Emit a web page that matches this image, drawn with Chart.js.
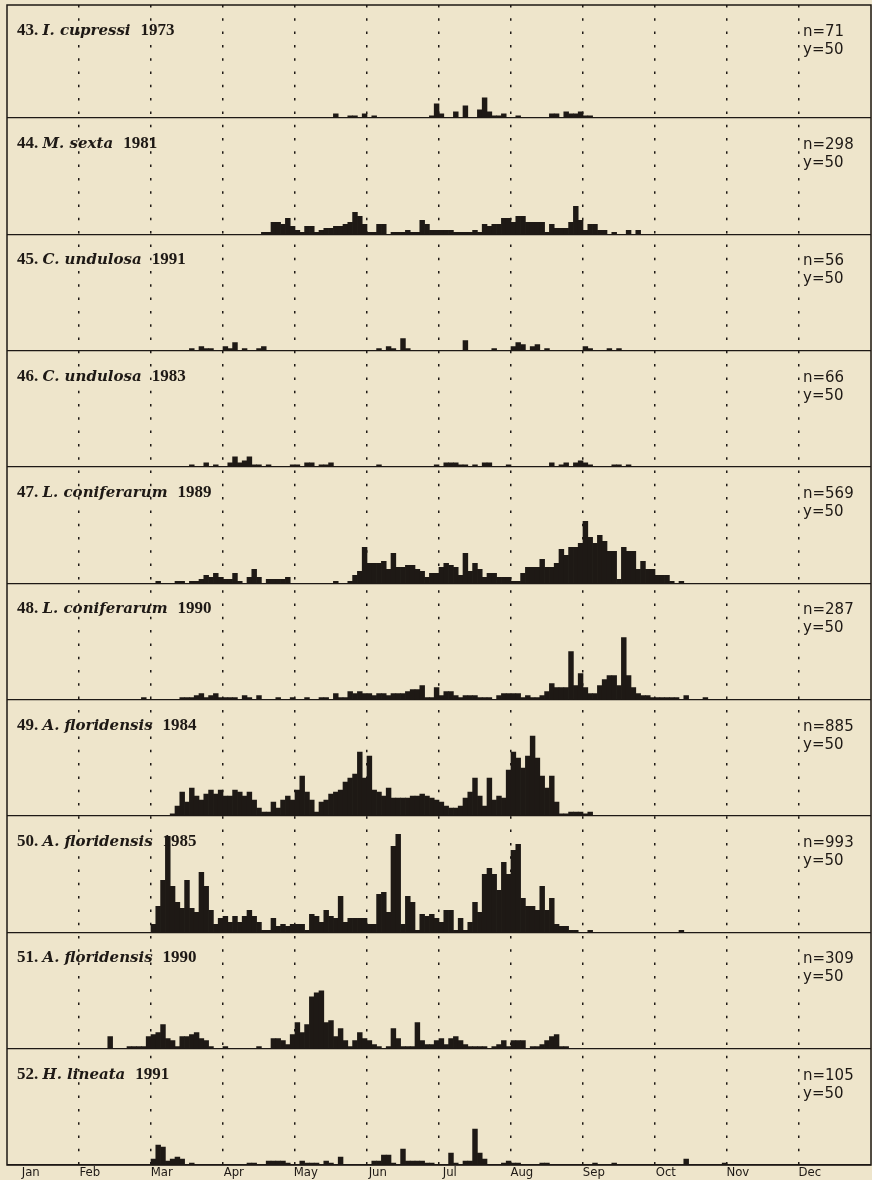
<!DOCTYPE html>
<html>
<head>
<meta charset="utf-8">
<script src="https://cdn.jsdelivr.net/npm/chart.js@4.4.1/dist/chart.umd.min.js"></script>
<style>
  html, body { margin: 0; padding: 0; background: #eee5cb; }
  canvas { display: block; }
</style>
</head>
<body>
<canvas id="chart" width="872" height="1180"></canvas>
<script>
const months = ['Jan', 'Feb', 'Mar', 'Apr', 'May', 'Jun', 'Jul', 'Aug', 'Sep', 'Oct', 'Nov', 'Dec'];
const binsPerMonth = 15; // about two days per bar

const panelNums = ['43.', '44.', '45.', '46.', '47.', '48.', '49.', '50.', '51.', '52.'];
const species = ['I. cupressi', 'M. sexta', 'C. undulosa', 'C. undulosa', 'L. coniferarum',
  'L. coniferarum', 'A. floridensis', 'A. floridensis', 'A. floridensis', 'H. lineata'];
const years = ['1973', '1981', '1991', '1983', '1989', '1990', '1984', '1985', '1990', '1991'];
const totals = [71, 298, 56, 66, 569, 287, 885, 993, 309, 105];
const scaleNote = 'y=50';

// bin index of the first value in each series
const firstBin = [68, 53, 38, 38, 31, 28, 34, 30, 21, 30];

const counts43 = [2,0,0,1,1,0,2,0,1,0, 0,0,0,0,0,0,0,0,0,0, 1,7,2,0,0,3,0,6,0,0,
  4,10,3,1,1,2,0,0,1,0, 0,0,0,0,0,2,2,0,3,2, 2,3,1,1];
const counts44 = [1,1,6,6,5,8,4,2,1,4, 4,1,2,3,3,4,4,5,6,11, 9,5,1,1,5,5,0,1,1,1,
  2,1,1,7,5,2,2,2,2,2, 1,1,1,1,2,1,5,4,5,5, 8,8,6,9,9,6,6,6,6,1,
  5,3,3,3,6,14,7,2,5,5, 2,2,0,1,0,0,2,0,2];
const counts45 = [1,0,2,1,1,0,0,2,1,4, 0,1,0,0,1,2,0,0,0,0, 0,0,0,0,0,0,0,0,0,0,
  0,0,0,0,0,0,0,0,0,1, 0,2,1,0,6,1,0,0,0,0, 0,0,0,0,0,0,0,5,0,0,
  0,0,0,1,0,0,0,2,4,3, 0,2,3,0,1,0,0,0,0,0, 0,0,2,1,0,0,0,1,0,1];
const counts46 = [1,0,0,2,0,1,0,0,2,5, 2,3,5,1,1,0,1,0,0,0, 0,1,1,0,2,2,0,1,1,2,
  0,0,0,0,0,0,0,0,0,1, 0,0,0,0,0,0,0,0,0,0, 0,1,0,2,2,2,1,1,0,1,
  0,2,2,0,0,0,1,0,0,0, 0,0,0,0,0,2,0,1,2,0, 2,3,2,1,0,0,0,0,1,1,0,1];
const counts47 = [1,0,0,0,1,1,0,1,1,2, 4,3,5,3,2,2,5,1,0,3, 7,3,0,2,2,2,2,3,0,0,
  0,0,0,0,0,0,0,1,0,0, 1,4,6,18,10,10,10,11,7,15, 8,8,9,9,7,6,3,5,5,8,
  10,9,8,4,15,6,10,7,3,5, 5,3,3,3,1,1,5,8,8,8, 12,8,8,10,17,14,18,18,20,31,
  23,20,24,21,16,16,2,18,16,16, 7,11,7,7,4,4,4,1,0,1];
const counts48 = [1,0,0,0,0,0,0,0,1,1, 1,2,3,1,2,3,1,1,1,1, 0,2,1,0,2,0,0,0,1,0,
  0,1,0,0,1,0,0,1,1,0, 3,1,1,4,3,4,3,3,2,3, 3,2,3,3,3,4,5,5,7,1,
  1,6,2,4,4,2,1,2,2,2, 1,1,1,0,2,3,3,3,3,1, 2,1,1,2,4,8,6,6,6,24,
  7,13,6,3,3,7,10,12,12,7, 31,12,6,3,2,2,1,1,1,1, 1,1,0,2,0,0,0,1];
const counts49 = [1,5,12,7,14,10,8,11,13,11, 13,10,10,13,12,10,12,8,4,2, 2,7,4,8,10,8,13,20,12,8,
  2,7,8,11,12,13,17,19,21,32, 19,30,13,12,10,14,9,9,9,9, 10,10,11,10,9,8,7,5,4,4,
  5,9,12,19,10,5,19,8,10,9, 23,32,29,24,30,40,29,20,14,20, 7,1,1,2,2,2,1,2];
const counts50 = [4,13,26,48,23,15,12,26,12,10, 30,23,11,4,7,8,5,8,5,8, 11,8,5,1,1,7,3,4,3,4,
  4,4,1,9,8,5,11,8,7,18, 5,7,7,7,7,4,4,19,20,10, 43,49,4,18,15,1,9,8,9,7,
  5,11,11,1,7,1,5,15,10,29, 32,29,21,35,29,41,44,17,13,13, 11,23,11,17,4,3,3,1,1,0,
  0,1,0,0,0,0,0,0,0,0, 0,0,0,0,0,0,0,0,0,0,1];
const counts51 = [6,0,0,0,1,1,1,1,6,7, 8,12,5,4,1,6,6,7,8,5, 4,1,0,0,1,0,0,0,0,0,
  0,1,0,0,5,5,4,2,7,13, 8,12,26,28,29,13,14,6,10,4, 1,4,8,5,4,2,1,0,1,10,
  5,1,1,1,13,4,2,2,4,5, 2,5,6,4,2,1,1,1,1,0, 1,2,4,1,4,4,4,0,1,1, 2,4,6,7,1,1];
const counts52 = [3,10,9,2,3,4,3,0,1,0, 0,0,0,0,0,0,0,0,0,0, 1,1,0,0,2,2,2,2,1,0,
  0,2,1,1,1,0,2,1,0,4, 0,0,0,0,0,0,2,2,5,5, 1,0,8,2,2,2,2,1,1,0,
  0,0,6,1,0,2,2,18,6,3, 0,0,0,1,2,1,1,0,0,0, 0,1,1,0,0,0,0,0,0,0,
  0,0,1,0,0,0,1,0,0,0, 0,0,0,0,0,0,0,0,0,0, 0,3,0,0,0,0,0,0,0,1];

const counts = [counts43, counts44, counts45, counts46, counts47, counts48, counts49, counts50, counts51, counts52];

// the first panel is a little shorter than the others
const panelHeights = [113, 116.5, 116.5, 116.5, 116.5, 116.5, 116.5, 116.5, 116.5, 116.5];
const pxPerCount = 2;     // so y=50 is 100 px
const labelShift = 0.15;  // month names sit just after the month line
const ink = '#1e1915';
const panelIds = counts.map((c, i) => 'p' + (43 + i));

const toPoints = (start, values) => values
  .map((v, i) => ({ x: (start + i + 0.5) / binsPerMonth, y: v }))
  .filter(p => p.y > 0);

const datasets = counts.map((values, i) => ({
  data: toPoints(firstBin[i], values),
  yAxisID: panelIds[i],
  backgroundColor: ink,
  borderWidth: 0,
  barPercentage: 1,
  categoryPercentage: 1,
  grouped: false
}));

const scales = {
  x: {
    type: 'linear',
    min: 0,
    max: 12,
    offset: false,
    afterBuildTicks: axis => {
      const t = [];
      for (let m = 0; m < 12; m++) {
        t.push({ value: m === 0 ? 0.33 : m + labelShift });
        if (m > 0) t.push({ value: m });
      }
      axis.ticks = t.sort((a, b) => a.value - b.value);
    },
    ticks: {
      autoSkip: false,
      maxRotation: 0,
      padding: 1,
      color: ink,
      font: { family: '"Liberation Sans Narrow", "DejaVu Sans Condensed", "Liberation Sans", sans-serif', size: 13, lineHeight: 1 },
      callback: v => Number.isInteger(v) ? '' : months[Math.floor(v)]
    },
    grid: {
      offset: false,
      drawTicks: false,
      lineWidth: 1.5,
      color: ctx => (ctx.tick && Number.isInteger(ctx.tick.value)) ? ink : 'rgba(0,0,0,0)'
    },
    border: { display: false, dash: [2.5, 10.8] }
  }
};

panelIds.forEach((id, i) => {
  scales[id] = {
    type: 'linear',
    position: 'left',
    stack: 'panels',
    stackWeight: panelHeights[i],
    weight: panelIds.length - i,
    min: 0,
    max: panelHeights[i] / pxPerCount,
    afterBuildTicks: axis => { axis.ticks = [{ value: 0 }]; },
    ticks: { display: false },
    grid: { drawTicks: false, color: ink, lineWidth: 1.3 },
    border: { display: false }
  };
});

// headings, n and scale notes, outer frame
const panelText = {
  id: 'panelText',
  afterDraw(chart) {
    const ctx = chart.ctx;
    const area = chart.chartArea;
    const decX = chart.scales.x.getPixelForValue(11);
    ctx.save();
    ctx.fillStyle = ink;
    ctx.textBaseline = 'alphabetic';
    panelIds.forEach((id, i) => {
      const top = chart.scales[id].top;
      let x = area.left + 10;
      ctx.font = 'bold 17px "Liberation Serif", serif';
      ctx.fillText(panelNums[i], x, top + 30);
      x += ctx.measureText(panelNums[i] + ' ').width;
      ctx.font = 'italic bold 15px "DejaVu Serif", serif';
      ctx.fillText(species[i], x, top + 30);
      x += ctx.measureText(species[i]).width + 10;
      ctx.font = 'bold 17px "Liberation Serif", serif';
      ctx.fillText(years[i], x, top + 30);

      ctx.font = '15px "DejaVu Sans", sans-serif';
      ctx.fillText('n=' + totals[i], decX + 4, top + 31);
      ctx.fillText(scaleNote, decX + 4, top + 49);
    });
    ctx.strokeStyle = ink;
    ctx.lineWidth = 1.5;
    ctx.strokeRect(area.left, area.top, area.width, area.height);
    ctx.restore();
  }
};

new Chart(document.getElementById('chart'), {
  type: 'bar',
  data: { datasets },
  options: {
    responsive: false,
    devicePixelRatio: 1,
    animation: false,
    layout: { padding: { left: 7, right: 1, top: 5, bottom: 0 } },
    plugins: { legend: { display: false }, tooltip: { enabled: false } },
    scales
  },
  plugins: [panelText]
});
</script>
</body>
</html>
